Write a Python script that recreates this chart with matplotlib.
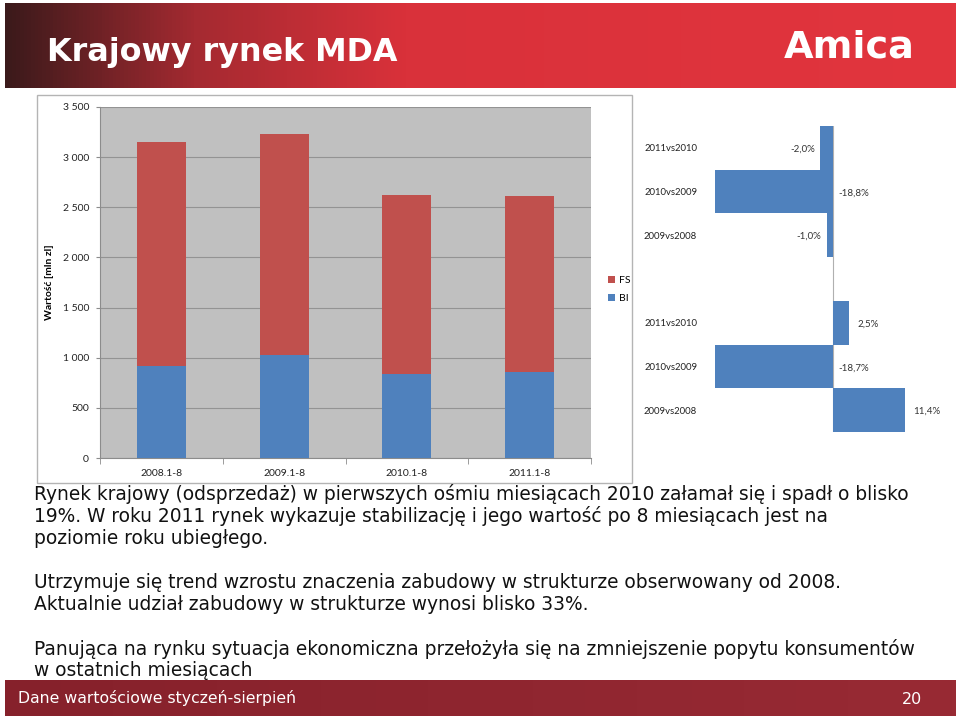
import numpy as np
import matplotlib.pyplot as plt
from matplotlib.colors import LinearSegmentedColormap
from matplotlib.patches import Rectangle

# stacked bars (mln zl)
periods = ["2008.1-8", "2009.1-8", "2010.1-8", "2011.1-8"]
bi_values = [920, 1025, 833, 854]
fs_values = [2228, 2206, 1791, 1755]

# year-on-year changes (%), top group FS, bottom group BI
change_labels = ["2011vs2010", "2010vs2009", "2009vs2008"]
fs_change = [-2.0, -18.8, -1.0]
bi_change = [2.5, -18.7, 11.4]

body_lines = [
    "Rynek krajowy (odsprzedaż) w pierwszych ośmiu miesiącach 2010 załamał się i spadł o blisko",
    "19%. W roku 2011 rynek wykazuje stabilizację i jego wartość po 8 miesiącach jest na",
    "poziomie roku ubiegłego.",
    "",
    "Utrzymuje się trend wzrostu znaczenia zabudowy w strukturze obserwowany od 2008.",
    "Aktualnie udział zabudowy w strukturze wynosi blisko 33%.",
    "",
    "Panująca na rynku sytuacja ekonomiczna przełożyła się na zmniejszenie popytu konsumentów",
    "w ostatnich miesiącach",
]

RED = "#c0504d"
BLUE = "#4f81bd"
CHART_FONT = ["Lato", "DejaVu Sans"]
W, H = 960, 716

fig = plt.figure(figsize=(W / 100, H / 100), dpi=100)

# slide background / decorations in pixel coordinates
bg = fig.add_axes([0, 0, 1, 1], zorder=-5)
bg.axis("off")

head_cmap = LinearSegmentedColormap.from_list(
    "head", [(0, "#3b1a1b"), (0.2, "#a52a31"), (0.42, "#d9313a"), (1, "#e2353e")]
)
bg.imshow(np.linspace(0, 1, 256)[None, :], cmap=head_cmap, aspect="auto",
          extent=(5, 956, 88, 3), zorder=0)
foot_cmap = LinearSegmentedColormap.from_list("foot", ["#86212b", "#982a34"])
bg.imshow(np.linspace(0, 1, 256)[None, :], cmap=foot_cmap, aspect="auto",
          extent=(5, 956, 716, 680), zorder=0)
bg.set_xlim(0, W)
bg.set_ylim(H, 0)

bg.text(47, 53, "Krajowy rynek MDA", color="white", fontsize=22.9,
        fontweight="bold", va="center", ha="left")
bg.text(849, 47, "Amica", color="white", fontsize=27.5, fontweight="bold",
        va="center", ha="center")
bg.text(18, 698, "Dane wartościowe styczeń-sierpień", color="white",
        fontsize=11.3, va="center", ha="left")
bg.text(922, 700, "20", color="white", fontsize=11.5, va="center", ha="right")

# chart frame
bg.add_patch(Rectangle((37, 95), 595, 388, facecolor="white",
                       edgecolor="#b4b4b4", lw=1, zorder=1))

for i, line in enumerate(body_lines):
    bg.text(34, 494 + i * 22.1, line, fontsize=13.45, color="#111111",
            va="center", ha="left")

# left chart: stacked columns
ax1 = fig.add_axes([100 / W, 1 - 458 / H, 491 / W, 351 / H])
x = np.arange(len(periods))
ax1.set_facecolor("#c0c0c0")
ax1.bar(x, bi_values, width=0.4, color=BLUE, label="BI", zorder=3)
ax1.bar(x, fs_values, width=0.4, bottom=bi_values, color=RED, label="FS", zorder=3)
ax1.set_xlim(-0.5, len(periods) - 0.5)
ax1.set_ylim(0, 3500)
ax1.set_yticks(np.arange(0, 3501, 500))
ax1.set_yticklabels([f"{v:,}".replace(",", " ") for v in range(0, 3501, 500)],
                    family=CHART_FONT)
ax1.grid(axis="y", color="#939393", lw=0.8, zorder=1)
ax1.set_xticks(x)
ax1.set_xticklabels(periods, family=CHART_FONT)
ax1.set_xticks(np.arange(-0.5, len(periods)), minor=True)
ax1.tick_params(axis="x", which="major", length=0, pad=8, labelsize=7.5, colors="#222222")
ax1.tick_params(axis="x", which="minor", length=4, color="#8c8c8c")
ax1.tick_params(axis="y", length=3, color="#8c8c8c", labelsize=7.5, colors="#222222", pad=5)
for side in ["top", "right"]:
    ax1.spines[side].set_visible(False)
for side in ["left", "bottom"]:
    ax1.spines[side].set_color("#8c8c8c")
    ax1.spines[side].set_linewidth(0.8)
ax1.set_ylabel("Wartość [mln zl]", fontsize=7.5, fontweight="bold", labelpad=6,
               family=CHART_FONT)

handles, labels = ax1.get_legend_handles_labels()
ax1.legend(handles[::-1], labels[::-1], loc="center left",
           bbox_to_anchor=(1.015, 0.48), frameon=False,
           prop={"family": CHART_FONT, "size": 7.5},
           handlelength=0.7, handleheight=0.7, handletextpad=0.4,
           labelspacing=0.8)

# right chart: year-on-year changes
ax2 = fig.add_axes([707 / W, 1 - 432 / H, 220.5 / W, 306 / H])
changes = bi_change[::-1] + [np.nan] + fs_change[::-1]
names = change_labels[::-1] + [""] + change_labels[::-1]
ypos = np.arange(len(changes))
ax2.axvline(0, color="#b0b0b0", lw=0.8, zorder=1)
ax2.barh(ypos, np.nan_to_num(changes), height=1.0, color=BLUE, zorder=2)
ax2.set_xlim(-20, 15)
ax2.set_ylim(-0.5, len(changes) - 0.5)
ax2.set_yticks(ypos)
ax2.set_yticklabels(names, family=CHART_FONT)
ax2.tick_params(axis="y", length=0, pad=7, labelsize=6.8, colors="#222222")
ax2.set_xticks([])
for s in ax2.spines.values():
    s.set_visible(False)

for y, v in zip(ypos, changes):
    if np.isnan(v):
        continue
    txt = f"{v:.1f}%".replace(".", ",")
    if v < 0 and abs(v) > 10:
        xy, off, ha = (0, y), (4, -1), "left"
    elif v < 0:
        xy, off, ha = (v, y), (-4, -1), "right"
    else:
        xy, off, ha = (v, y), (6, -1), "left"
    ax2.annotate(txt, xy, xytext=off, textcoords="offset points", ha=ha,
                 va="center", fontsize=7, color="#333333", family=CHART_FONT)

fig.savefig("out.png", dpi=100)
